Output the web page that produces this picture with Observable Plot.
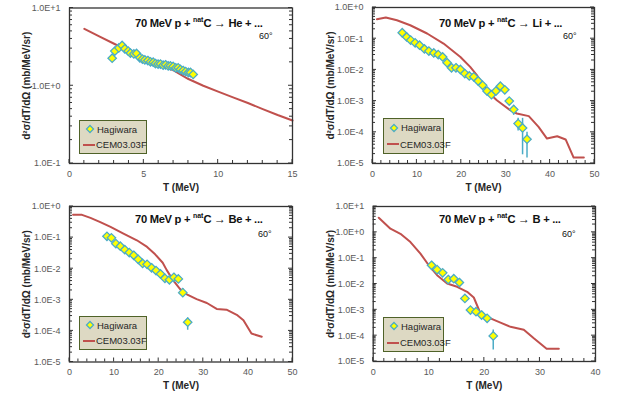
<!DOCTYPE html>
<html>
<head>
<meta charset="utf-8">
<script src="https://cdn.jsdelivr.net/npm/d3@7"></script>
<script src="https://cdn.jsdelivr.net/npm/@observablehq/plot@0.6"></script>
<style>
  html, body { margin: 0; padding: 0; background: #fff; }
  #wrap { position: relative; width: 620px; height: 398px; background: #fff; overflow: hidden;
          font-family: "Liberation Sans", Arial, sans-serif; }
  .panel { position: absolute; width: 310px; height: 199px; }
  .panel svg { overflow: visible; }
  [aria-label="x-axis label"] text, [aria-label="y-axis label"] text { font-weight: bold; fill: #262626; font-size: 10px; }
  .title { position: absolute; font-weight: bold; font-size: 11.2px; letter-spacing: -0.3px; color: #111; white-space: nowrap; line-height: 1; }
  .title sup { font-size: 7px; vertical-align: 5px; letter-spacing: 0; }
  .title .arr { font-size: 12px; font-weight: normal; }
  .deg { position: absolute; font-size: 9px; color: #111; white-space: nowrap; line-height: 1; }
  .legend { position: absolute; box-sizing: border-box; background: #DDD9C3; border: 1.5px solid #4F6228; }
  .legend .row { position: absolute; left: 0; font-size: 9.5px; color: #262626; white-space: nowrap; line-height: 1; }
</style>
</head>
<body>
<div id="wrap"></div>
<script>
// ---------- data ----------
// He panel
const heExpT = [2.87,3.05,3.32,3.54,3.72,3.95,4.10,4.33,4.51,4.73,4.91,5.07,5.27,5.45,5.63,5.78,5.96,6.12,6.30,6.46,6.64,6.79,6.97,7.15,7.31,7.46,7.64,7.82,8.00,8.14,8.32];
const heExpV = [2.26,2.79,3.07,3.30,2.99,2.79,2.63,2.57,2.60,2.29,2.20,2.15,2.11,2.03,2.01,1.93,1.90,1.90,1.84,1.86,1.80,1.80,1.77,1.70,1.70,1.62,1.57,1.52,1.48,1.48,1.40];
const heModT = [1,2,3,4,5,6,7,8,9,10,11,12,13,14,15];
const heModV = [5.40,4.32,3.47,2.79,2.24,1.84,1.58,1.22,1.0,0.84,0.71,0.60,0.50,0.42,0.357];
const heErrT = [], heErrLo = [], heErrHi = [];

// Li panel
const liExpT = [6.7,7.7,8.6,9.6,10.6,11.7,12.7,13.8,14.8,15.8,16.8,17.8,18.8,19.8,20.8,21.8,22.8,23.8,24.8,25.8,26.8,27.8,28.8,29.8,30.8,31.8,32.8,33.8,34.8];
const liExpV = [0.155,0.114,0.090,0.0736,0.062,0.047,0.040,0.035,0.031,0.026,0.017,0.0117,0.0117,0.0103,0.0076,0.0064,0.006,0.0044,0.0032,0.0021,0.0016,0.0021,0.0030,0.0023,0.0010,0.00054,0.00019,0.000138,0.00006];
const liModT = [1,3,5.5,8.5,12.3,16,19.8,22,23.5,25,26.5,28,29.5,31,32.5,35.2,37.4,39.3,41.6,43.5,45.3,47.6];
const liModV = [0.42,0.48,0.39,0.27,0.147,0.07,0.026,0.0125,0.0068,0.0032,0.0017,0.00107,0.00074,0.00051,0.0004,0.00033,0.00015,6.3e-5,7.5e-5,5.9e-5,1.55e-5,1.55e-5];
const liErrT = [31.8,32.8,33.8,34.8];
const liErrLo = [3.5e-4,1.1e-4,1.9e-5,1.5e-5];
const liErrHi = [6.9e-4,2.8e-4,2.8e-4,1.0e-4];

// Be panel
const beExpT = [8.4,9.4,10.4,11.4,12.4,13.4,14.4,15.4,16.4,17.4,18.4,19.4,20.4,21.4,22.4,23.4,24.4,25.4,26.5];
const beExpV = [0.11,0.098,0.064,0.053,0.041,0.033,0.027,0.020,0.0148,0.0138,0.0107,0.0087,0.0068,0.0049,0.0044,0.0053,0.0047,0.0017,0.00019];
const beModT = [0.8,2.8,4.7,6.9,9.2,12.1,15.1,17.4,19.2,20.9,21.8,23.3,24.8,26.3,28.5,30.8,33,35.2,37.5,39,40.8,43.1];
const beModV = [0.54,0.54,0.43,0.316,0.22,0.134,0.082,0.05,0.029,0.0155,0.009,0.0041,0.0022,0.0015,0.00105,0.00079,0.00051,0.00048,0.00033,0.00022,8.2e-5,6.5e-5];
const beErrT = [25.4,26.5];
const beErrLo = [0.0013,1.05e-4];
const beErrHi = [0.0023,2.6e-4];

// B panel
const bExpT = [10.5,11.5,12.5,13.5,14.5,15.5,16.5,17.5,18.5,19.5,20.5,21.6];
const bExpV = [0.053,0.036,0.027,0.0149,0.016,0.0114,0.00277,0.00098,0.00085,0.00063,0.00047,9.8e-5];
const bModT = [1,3.1,4.9,6.7,8.5,10,11.5,13.3,15.1,16.9,18.1,19.3,21.1,22.9,24.7,27.1,28.9,31.2,33.4];
const bModV = [3.66,1.38,0.88,0.42,0.15,0.053,0.022,0.0105,0.0078,0.005,0.003,0.00073,0.00047,0.00032,0.00022,0.00017,7.9e-5,3.1e-5,3.1e-5];
const bErrT = [20.5,21.6];
const bErrLo = [3.5e-4,2.8e-5];
const bErrHi = [6.2e-4,1.65e-4];

// tick labels / text
const yLabel = "d²σ/dT/dΩ (mb/MeV/sr)";
const xLabel = "T (MeV)";
const legendExp = "Hagiwara";
const legendMod = "CEM03.03F";
const angleText = "60°";
const products = ["He", "Li", "Be", "B"];

// ---------- helpers ----------
const zip2 = (T, V) => T.map((t, i) => ({T: t, v: V[i]}));
const zipErr = (T, L, H) => T.map((t, i) => ({T: t, lo: L[i], hi: H[i]}));
const fmtE = v => { const e = Math.round(Math.log10(v)); return "1.0E" + (e >= 0 ? "+" : "-") + Math.abs(e); };

const panels = [
  {left: 0,   top: 0,   ml: 69,   mr: 18, mt: 7.5, mb: 36,   xDom: [0, 15], xMaj: 5,  xMin: 1, yDom: [0.1, 10], ylo: 47,
   exp: zip2(heExpT, heExpV), mod: zip2(heModT, heModV), err: zipErr(heErrT, heErrLo, heErrHi), name: products[0],
   title: [135, 16], deg: [259, 32], leg: [79, 120, 68, 34]},
  {left: 310, top: 0,   ml: 62,   mr: 26, mt: 7,   mb: 36,   xDom: [0, 50], xMaj: 10, xMin: 2, yDom: [1e-5, 1], ylo: 46,
   exp: zip2(liExpT, liExpV), mod: zip2(liModT, liModV), err: zipErr(liErrT, liErrLo, liErrHi), name: products[1],
   title: [439, 16], deg: [563, 32], leg: [383, 118, 61, 36]},
  {left: 0,   top: 199, ml: 69,   mr: 18, mt: 7,   mb: 36.5, xDom: [0, 50], xMaj: 10, xMin: 2, yDom: [1e-5, 1], ylo: 47,
   exp: zip2(beExpT, beExpV), mod: zip2(beModT, beModV), err: zipErr(beErrT, beErrLo, beErrHi), name: products[2],
   title: [135, 212], deg: [258, 230], leg: [79, 316, 68, 34]},
  {left: 310, top: 199, ml: 62.7, mr: 25, mt: 7,   mb: 37,   xDom: [0, 40], xMaj: 10, xMin: 2, yDom: [1e-5, 10], ylo: 46.7,
   exp: zip2(bExpT, bExpV), mod: zip2(bModT, bModV), err: zipErr(bErrT, bErrLo, bErrHi), name: products[3],
   title: [439, 212], deg: [562, 230], leg: [383, 317, 61, 35]}
];

function tickMark(p) {
  return (index, scales, values, dim) => {
    const {x, y} = scales;
    const g = d3.create("svg:g").attr("stroke", "#333").attr("stroke-width", 1);
    const yb = dim.height - dim.marginBottom;
    const xl = dim.marginLeft, xr = dim.width - dim.marginRight;
    for (let t = p.xDom[0]; t <= p.xDom[1] + 1e-9; t += p.xMin) {
      const maj = Math.abs(t / p.xMaj - Math.round(t / p.xMaj)) < 1e-6;
      g.append("line").attr("x1", x(t)).attr("x2", x(t)).attr("y1", yb).attr("y2", yb - (maj ? 4 : 3));
    }
    const e0 = Math.round(Math.log10(p.yDom[0])), e1 = Math.round(Math.log10(p.yDom[1]));
    for (let e = e0; e <= e1; e++) {
      for (let k = 1; k <= 9; k++) {
        const v = k * Math.pow(10, e);
        if (v > p.yDom[1] * 1.0001) break;
        const len = k === 1 ? 4 : 3;
        g.append("line").attr("x1", xl).attr("x2", xl + len).attr("y1", y(v)).attr("y2", y(v));
        g.append("line").attr("x1", xr).attr("x2", xr - len).attr("y1", y(v)).attr("y2", y(v));
      }
    }
    return g.node();
  };
}

const wrap = document.getElementById("wrap");
for (const p of panels) {
  const e0 = Math.round(Math.log10(p.yDom[0])), e1 = Math.round(Math.log10(p.yDom[1]));
  const yTicks = d3.range(e0, e1 + 1).map(e => Math.pow(10, e));
  const xTicks = d3.range(p.xDom[0], p.xDom[1] + 1e-9, p.xMaj);
  const chart = Plot.plot({
    width: 310, height: 199,
    marginLeft: p.ml, marginRight: p.mr, marginTop: p.mt, marginBottom: p.mb,
    style: {fontFamily: '"Liberation Sans", Arial, sans-serif', fontSize: "9px", color: "#595959", background: "transparent", overflow: "visible"},
    x: {domain: p.xDom},
    y: {type: "log", domain: p.yDom},
    marks: [
      Plot.axisX({ticks: xTicks, tickSize: 0, tickPadding: 7, tickFormat: d => String(d),
                  label: xLabel, labelArrow: "none", labelAnchor: "center", labelOffset: 27}),
      Plot.axisY({ticks: yTicks, tickSize: 0, tickPadding: 9, tickFormat: fmtE,
                  label: yLabel, labelArrow: "none", labelAnchor: "center", labelOffset: p.ylo}),
      Plot.line(p.mod, {x: "T", y: "v", stroke: "#C0504D", strokeWidth: 2}),
      Plot.ruleX(p.err, {x: "T", y1: "lo", y2: "hi", stroke: "#4BACC6", strokeWidth: 1.5}),
      Plot.dot(p.exp, {x: "T", y: "v", symbol: "diamond2", r: 3.8, fill: "#FFFF00", stroke: "#4BACC6", strokeWidth: 1.3}),
      tickMark(p),
      Plot.frame({stroke: "#333", strokeWidth: 1.3})
    ]
  });
  const div = document.createElement("div");
  div.className = "panel";
  div.style.left = p.left + "px";
  div.style.top = p.top + "px";
  div.appendChild(chart);
  wrap.appendChild(div);

  const t = document.createElement("div");
  t.className = "title";
  t.style.left = p.title[0] + "px";
  t.style.top = p.title[1] + "px";
  t.innerHTML = "70 MeV p + <sup>nat</sup>C <span class=\"arr\">→</span> " + p.name + " + ...";
  wrap.appendChild(t);

  const d = document.createElement("div");
  d.className = "deg";
  d.style.left = p.deg[0] + "px";
  d.style.top = p.deg[1] + "px";
  d.textContent = angleText;
  wrap.appendChild(d);

  const [lx, ly, lw, lh] = p.leg;
  const lg = document.createElement("div");
  lg.className = "legend";
  lg.style.left = lx + "px"; lg.style.top = ly + "px";
  lg.style.width = lw + "px"; lg.style.height = lh + "px";
  lg.innerHTML =
    '<div class="row" style="top:' + (lh * 0.2 - 4) + 'px;left:3px">' +
      '<svg width="14" height="10" style="vertical-align:middle"><path d="M7,1.5 L10.5,5 L7,8.5 L3.5,5 Z" fill="#FFFF00" stroke="#4BACC6" stroke-width="1.3"/></svg>' +
      '<span style="vertical-align:middle">' + legendExp + '</span></div>' +
    '<div class="row" style="top:' + (lh * 0.72 - 6) + 'px;left:2px">' +
      '<svg width="14" height="10" style="vertical-align:middle"><line x1="1" x2="13" y1="5" y2="5" stroke="#C0504D" stroke-width="2"/></svg>' +
      '<span style="vertical-align:middle">' + legendMod + '</span></div>';
  wrap.appendChild(lg);
}
</script>
</body>
</html>
